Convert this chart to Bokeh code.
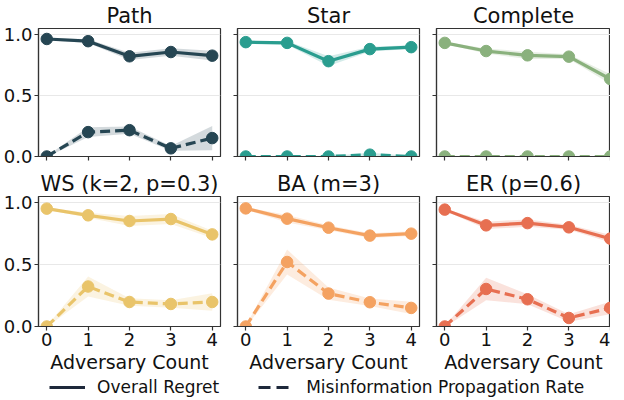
from bokeh.plotting import figure
from bokeh.layouts import column, row
from bokeh.models import ColumnDataSource, FixedTicker, Legend, LegendItem, Range1d
from bokeh.embed import file_html
from bokeh.resources import INLINE

# ---------------- data ----------------
adversary_counts = [0, 1, 2, 3, 4]
x_tick_labels = ["0", "1", "2", "3", "4"]
y_ticks = [0.0, 0.5, 1.0]
y_tick_labels = ["0.0", "0.5", "1.0"]

topologies = ["Path", "Star", "Complete", "WS (k=2, p=0.3)", "BA (m=3)", "ER (p=0.6)"]
series_colors = ["#264653", "#2a9d8f", "#8ab17d", "#e9c46a", "#f4a261", "#e76f51"]
legend_labels = ["Overall Regret", "Misinformation Propagation Rate"]
legend_color = "#1e293b"
x_label = "Adversary Count"

regret_path = [0.964, 0.946, 0.822, 0.857, 0.827]
regret_path_sd = [0.01, 0.015, 0.03, 0.03, 0.04]
misinfo_path = [0.0, 0.200, 0.216, 0.067, 0.151]
misinfo_path_sd = [0.005, 0.04, 0.03, 0.02, 0.10]

regret_star = [0.938, 0.932, 0.782, 0.881, 0.897]
regret_star_sd = [0.01, 0.015, 0.04, 0.02, 0.015]
misinfo_star = [0.0, 0.0, 0.0, 0.015, 0.0]
misinfo_star_sd = [0.005, 0.005, 0.005, 0.015, 0.005]

regret_complete = [0.932, 0.865, 0.830, 0.819, 0.636]
regret_complete_sd = [0.01, 0.02, 0.03, 0.02, 0.04]
misinfo_complete = [0.0, 0.0, 0.0, 0.0, 0.0]
misinfo_complete_sd = [0.0, 0.0, 0.0, 0.0, 0.0]

regret_ws = [0.952, 0.898, 0.852, 0.868, 0.744]
regret_ws_sd = [0.01, 0.02, 0.04, 0.04, 0.03]
misinfo_ws = [0.0, 0.323, 0.198, 0.182, 0.198]
misinfo_ws_sd = [0.005, 0.08, 0.03, 0.03, 0.07]

regret_ba = [0.954, 0.871, 0.798, 0.734, 0.750]
regret_ba_sd = [0.01, 0.03, 0.02, 0.02, 0.02]
misinfo_ba = [0.0, 0.521, 0.266, 0.196, 0.150]
misinfo_ba_sd = [0.005, 0.10, 0.05, 0.03, 0.05]

regret_er = [0.944, 0.817, 0.835, 0.801, 0.710]
regret_er_sd = [0.01, 0.03, 0.03, 0.02, 0.03]
misinfo_er = [0.0, 0.303, 0.220, 0.069, 0.150]
misinfo_er_sd = [0.005, 0.09, 0.04, 0.03, 0.05]

regrets = [regret_path, regret_star, regret_complete, regret_ws, regret_ba, regret_er]
regret_sds = [regret_path_sd, regret_star_sd, regret_complete_sd, regret_ws_sd, regret_ba_sd, regret_er_sd]
misinfos = [misinfo_path, misinfo_star, misinfo_complete, misinfo_ws, misinfo_ba, misinfo_er]
misinfo_sds = [misinfo_path_sd, misinfo_star_sd, misinfo_complete_sd, misinfo_ws_sd, misinfo_ba_sd, misinfo_er_sd]

FONT = "DejaVu Sans"
AXIS_COLOR = "#333333"
FULL_FW = 182


def make_panel(i):
    c = i % 3
    r = i // 3
    fw = 174 if c == 2 else FULL_FW
    x_end = -0.2 + 4.4 * fw / FULL_FW
    p = figure(
        frame_width=fw,
        frame_height=128 if r == 0 else 130,
        x_range=Range1d(-0.2, x_end),
        y_range=Range1d(0.0, 1.05),
        output_backend="svg",
        toolbar_location=None,
        title=topologies[i],
        min_border_left=36 if c == 0 else 9,
        min_border_right=0 if c == 2 else 8,
        min_border_top=18 if r == 0 else 26,
        min_border_bottom=12 if r == 0 else 46,
    )
    p.title.align = "center"
    p.title.text_font = FONT
    p.title.text_font_size = "21px"
    p.title.text_font_style = "normal"
    p.title.text_color = "#111111"
    p.title.standoff = 2
    p.title.offset = 0

    p.outline_line_color = AXIS_COLOR
    p.outline_line_width = 1.2
    p.background_fill_color = "white"

    p.xgrid.visible = False
    p.ygrid.ticker = FixedTicker(ticks=y_ticks)
    p.ygrid.grid_line_color = "#e8e8e8"
    p.ygrid.grid_line_width = 1

    for ax in (p.xaxis[0], p.yaxis[0]):
        ax.axis_line_color = AXIS_COLOR
        ax.axis_line_width = 1.2
        ax.major_tick_line_color = AXIS_COLOR
        ax.major_tick_line_width = 1.2
        ax.major_tick_out = 4
        ax.major_tick_in = 0
        ax.minor_tick_line_color = None
        ax.major_label_text_font = FONT
        ax.major_label_text_color = "#111111"
        ax.major_label_text_font_size = "18px"
        ax.major_label_standoff = 2

    p.xaxis.ticker = FixedTicker(ticks=adversary_counts)
    p.yaxis.ticker = FixedTicker(ticks=y_ticks)
    if r == 0:
        p.xaxis.major_label_overrides = {v: "" for v in adversary_counts}
        p.xaxis.major_label_standoff = 0
    else:
        p.xaxis.major_label_overrides = {v: s for v, s in zip(adversary_counts, x_tick_labels)}
        p.xaxis.axis_label = x_label
        p.xaxis.axis_label_text_font = FONT
        p.xaxis.axis_label_text_font_size = "19px"
        p.xaxis.axis_label_text_font_style = "normal"
        p.xaxis.axis_label_text_color = "#111111"
        p.xaxis.axis_label_standoff = 2
    if c != 0:
        p.yaxis.major_label_overrides = {v: "" for v in y_ticks}
        p.yaxis.major_label_standoff = 0
    else:
        p.yaxis.major_label_overrides = {v: s for v, s in zip(y_ticks, y_tick_labels)}

    color = series_colors[i]
    reg = regrets[i]
    rsd = regret_sds[i]
    mis = misinfos[i]
    msd = misinfo_sds[i]
    src = ColumnDataSource(dict(
        x=adversary_counts,
        reg=reg,
        reg_lo=[m - s for m, s in zip(reg, rsd)],
        reg_hi=[m + s for m, s in zip(reg, rsd)],
        mis=mis,
        mis_lo=[m - s for m, s in zip(mis, msd)],
        mis_hi=[m + s for m, s in zip(mis, msd)],
    ))
    p.varea(x="x", y1="reg_lo", y2="reg_hi", source=src, fill_color=color, fill_alpha=0.2)
    p.varea(x="x", y1="mis_lo", y2="mis_hi", source=src, fill_color=color, fill_alpha=0.2)
    p.line(x="x", y="reg", source=src, line_color=color, line_width=3.2)
    p.scatter(x="x", y="reg", source=src, size=11.5, fill_color=color, line_color=color)
    p.line(x="x", y="mis", source=src, line_color=color, line_width=3.2, line_dash="10 5")
    p.scatter(x="x", y="mis", source=src, size=11.5, fill_color=color, line_color=color)
    return p


panels = [make_panel(i) for i in range(6)]

# legend strip: proxy renderers kept outside the visible range
lf = figure(width=608, height=24, toolbar_location=None, output_backend="svg",
            x_range=Range1d(0, 1), y_range=Range1d(10, 11),
            x_axis_location=None, y_axis_location=None, min_border=0)
lf.outline_line_color = None
lf.grid.visible = False
proxy = ColumnDataSource(dict(x=adversary_counts, y=misinfo_complete))
r1 = lf.line(x="x", y="y", source=proxy, line_color=legend_color, line_width=3.2)
r2 = lf.line(x="x", y="y", source=proxy, line_color=legend_color, line_width=3.2, line_dash="12 6")
legend = Legend(
    items=[LegendItem(label=legend_labels[0], renderers=[r1]),
           LegendItem(label=legend_labels[1], renderers=[r2])],
    orientation="horizontal", location=(49, 2),
    glyph_width=36, glyph_height=20, label_standoff=12, spacing=39,
    padding=0, margin=0, border_line_color=None, background_fill_alpha=0,
    label_text_font=FONT, label_text_font_size="17px", label_text_color="#111111",
)
lf.add_layout(legend)

layout = column(row(*panels[:3]), row(*panels[3:]), lf)

open("out.html", "w").write(file_html(layout, INLINE))
